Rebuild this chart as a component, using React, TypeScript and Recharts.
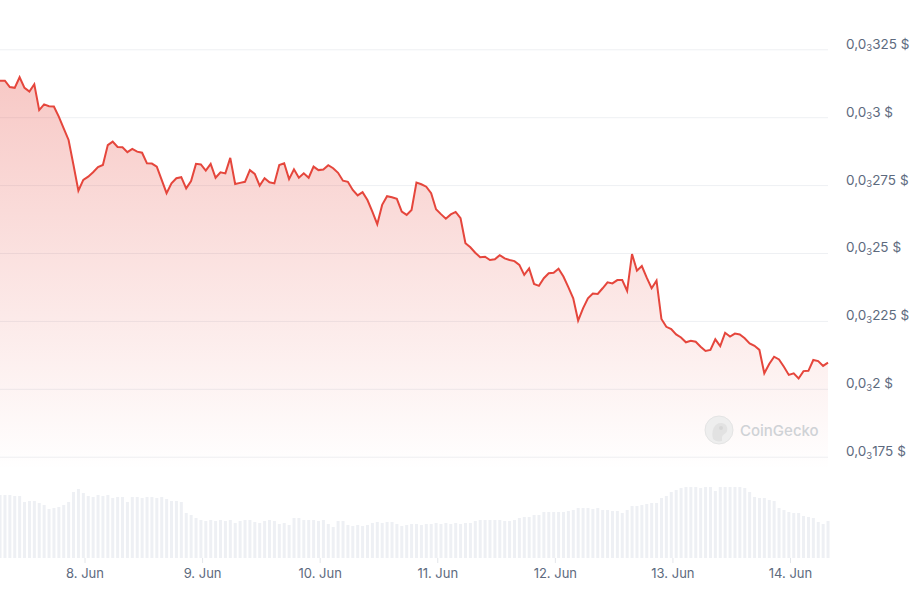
import { ComposedChart, Area, Bar, XAxis, YAxis, CartesianGrid } from "recharts"

const START = Date.UTC(2025, 5, 7, 6, 39)
const HOUR = 3600 * 1000

// hourly close, USD
const PRICES = [
  0.0003136, 0.0003136, 0.0003113, 0.000311, 0.0003149, 0.000311, 0.0003096, 0.0003123, 0.0003028, 0.0003049,
  0.0003042, 0.0003041, 0.0003004, 0.0002961, 0.0002918, 0.0002826, 0.0002731, 0.0002771, 0.0002783, 0.0002799,
  0.0002818, 0.0002826, 0.0002899, 0.0002912, 0.0002892, 0.0002891, 0.0002873, 0.0002885, 0.0002875, 0.0002871,
  0.0002832, 0.0002831, 0.000282, 0.0002771, 0.0002722, 0.0002758, 0.0002777, 0.0002781, 0.000274, 0.0002767,
  0.000283, 0.0002828, 0.0002805, 0.000283, 0.0002779, 0.0002799, 0.0002795, 0.0002852, 0.0002756, 0.000276,
  0.0002764, 0.0002807, 0.0002793, 0.000275, 0.0002777, 0.0002762, 0.0002758, 0.0002826, 0.0002832, 0.0002774,
  0.000281, 0.0002779, 0.0002795, 0.0002779, 0.000282, 0.0002807, 0.0002809, 0.0002825, 0.0002814, 0.0002797,
  0.0002768, 0.0002764, 0.0002734, 0.0002714, 0.0002726, 0.0002697, 0.0002654, 0.0002608, 0.0002679, 0.0002711,
  0.0002707, 0.0002701, 0.0002654, 0.0002642, 0.000266, 0.0002761, 0.0002755, 0.0002746, 0.0002722, 0.0002663,
  0.0002645, 0.0002628, 0.0002644, 0.0002653, 0.000263, 0.0002538, 0.0002523, 0.0002503, 0.0002486, 0.0002488,
  0.0002476, 0.0002479, 0.0002494, 0.0002482, 0.0002476, 0.0002472, 0.0002458, 0.0002421, 0.0002445, 0.0002388,
  0.0002381, 0.0002409, 0.0002427, 0.0002429, 0.0002444, 0.0002415, 0.0002376, 0.0002335, 0.0002253, 0.0002298,
  0.0002335, 0.0002353, 0.0002351, 0.0002372, 0.0002394, 0.000239, 0.0002402, 0.0002402, 0.0002362, 0.0002498,
  0.0002437, 0.0002454, 0.0002411, 0.0002372, 0.00024, 0.0002259, 0.000223, 0.0002222, 0.0002202, 0.0002191,
  0.0002173, 0.0002179, 0.0002175, 0.0002157, 0.0002141, 0.0002145, 0.0002184, 0.0002159, 0.0002208, 0.0002194,
  0.0002205, 0.0002202, 0.0002188, 0.0002169, 0.000216, 0.0002145, 0.0002059, 0.0002093, 0.000212, 0.000211,
  0.0002083, 0.0002053, 0.0002059, 0.000204, 0.0002067, 0.0002068, 0.0002108, 0.0002104, 0.0002086, 0.0002098,
]

// hourly volume, relative units
const VOLUMES = [
  63, 63, 63, 62, 62, 56, 57, 57, 55, 53,
  49, 50, 51, 53, 56, 66, 69, 65, 62, 61,
  63, 62, 63, 60, 61, 61, 56, 61, 61, 60,
  61, 61, 60, 61, 59, 57, 57, 56, 45, 43,
  40, 38, 37, 38, 37, 38, 37, 38, 35, 37,
  38, 38, 36, 35, 37, 38, 37, 34, 35, 33,
  40, 40, 38, 38, 38, 37, 38, 34, 31, 37,
  37, 33, 32, 33, 32, 33, 35, 36, 35, 36,
  36, 34, 32, 33, 34, 34, 33, 34, 34, 35,
  34, 35, 34, 35, 34, 35, 35, 37, 38, 38,
  38, 38, 38, 37, 37, 38, 40, 41, 41, 43,
  43, 46, 46, 46, 46, 46, 47, 48, 50, 50,
  50, 49, 50, 48, 48, 47, 47, 45, 48, 52,
  52, 53, 54, 55, 55, 60, 62, 66, 68, 70,
  71, 71, 71, 70, 71, 71, 67, 71, 71, 71,
  71, 71, 70, 66, 61, 60, 60, 58, 57, 50,
  48, 46, 45, 45, 42, 41, 40, 36, 34, 37,
]

const DAYS = [8, 9, 10, 11, 12, 13, 14]
const DAY_TICKS = DAYS.map((d) => Date.UTC(2025, 5, d))
const PRICE_TICKS = [0.000175, 0.0002, 0.000225, 0.00025, 0.000275, 0.0003, 0.000325]

const data = PRICES.map((p, i) => ({
  t: START + i * HOUR,
  price: p,
  volume: VOLUMES[i],
}))

const LABEL = "#5d6a7e"
const RED = "#e5463c"

const PriceTick = (props: any) => {
  const { x, y, payload } = props
  const digits = String(Math.round(payload.value * 1e6)).replace(/0+$/, "")
  return (
    <text x={x} y={y - 1} fill={LABEL} fontSize={13.5} textAnchor="start">
      <tspan>0,0</tspan>
      <tspan fontSize={9.5} dy={2.5}>3</tspan>
      <tspan dy={-2.5}>{digits} $</tspan>
    </text>
  )
}

const Watermark = () => (
  <div style={{ position: "absolute", left: 704, top: 415, display: "flex", alignItems: "center", pointerEvents: "none" }}>
    <svg width={30} height={30}>
      <circle cx={15} cy={15} r={14} fill="#eeeeee" stroke="#e4e4e4" />
      <path d="M9 24 C7 16 10 8 17 8 C22 8 24 12 23 16 C22 19 19 19 18 22 L18 26 C15 27 11 26 9 24 Z" fill="#e2e2e2" />
      <circle cx={17} cy={13} r={2} fill="#d6d6d6" />
    </svg>
    <span style={{ marginLeft: 6, fontSize: 15, color: "#cfd2d6", fontWeight: 500 }}>CoinGecko</span>
  </div>
)

export default function App() {
  return (
    <div style={{ position: "absolute", left: 0, top: 0, width: 920, height: 592, background: "#fff", fontFamily: "Inter, sans-serif" }}>
      <ComposedChart width={920} height={592} data={data} margin={{ top: 10, right: 0, bottom: 0, left: 0 }}>
        <defs>
          <linearGradient id="priceFill" gradientUnits="userSpaceOnUse" x1={0} y1={70} x2={0} y2={470}>
            <stop offset="0%" stopColor={RED} stopOpacity={0.3} />
            <stop offset="100%" stopColor={RED} stopOpacity={0} />
          </linearGradient>
        </defs>
        <CartesianGrid yAxisId="price" vertical={false} syncWithTicks stroke="#eef0f3" />
        <XAxis
          dataKey="t"
          type="number"
          domain={["dataMin", "dataMax"]}
          ticks={DAY_TICKS}
          interval={0}
          tickFormatter={(v) => `${new Date(v).getUTCDate()}. Jun`}
          axisLine={false}
          tickLine={{ stroke: "#e3e6ea" }}
          tickSize={5}
          tickMargin={6}
          height={34}
          tick={{ fill: LABEL, fontSize: 13 }}
        />
        <YAxis yAxisId="vol" hide domain={[0, 548]} />
        <YAxis
          yAxisId="price"
          orientation="right"
          width={92}
          domain={[0.00013789, 0.00033965]}
          ticks={PRICE_TICKS}
          interval={0}
          axisLine={false}
          tickLine={false}
          tickMargin={12}
          tick={<PriceTick />}
        />
        <Bar yAxisId="vol" dataKey="volume" fill="#eef0f4" barSize={3} isAnimationActive={false} />
        <Area
          yAxisId="price"
          dataKey="price"
          type="linear"
          stroke={RED}
          strokeWidth={2}
          fill="url(#priceFill)"
          fillOpacity={1}
          dot={false}
          activeDot={false}
          isAnimationActive={false}
        />
      </ComposedChart>
      <Watermark />
    </div>
  )
}
